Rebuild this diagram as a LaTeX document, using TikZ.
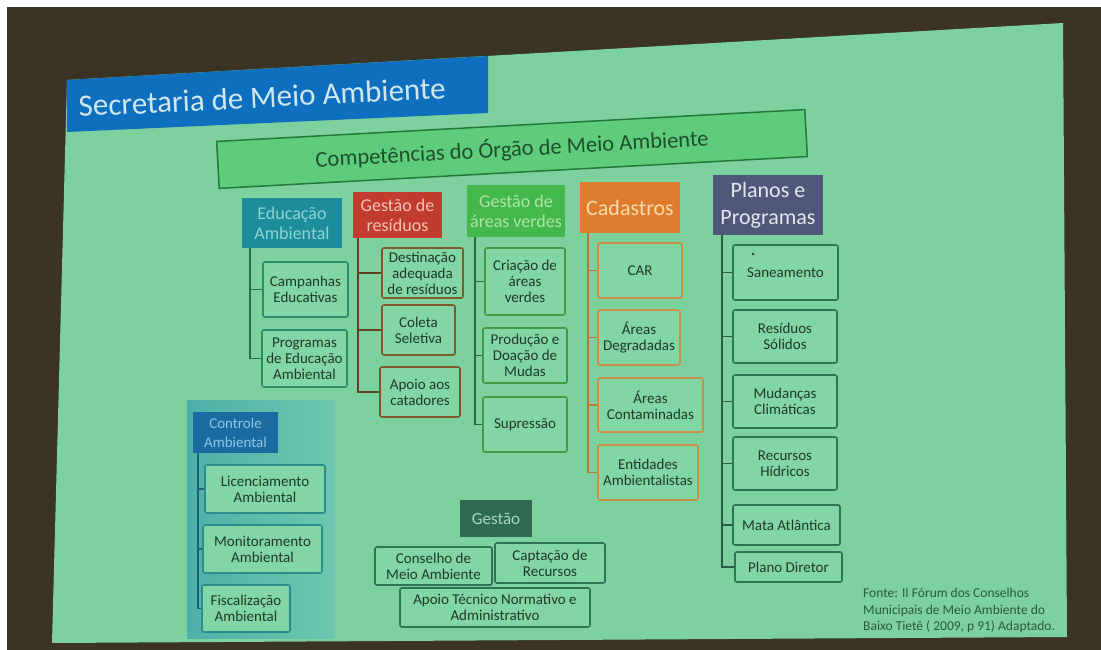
\documentclass[tikz,border=0pt]{standalone}
\usepackage{fontspec}
\setmainfont{Carlito}

\definecolor{frame}{HTML}{3B3324}
\definecolor{slide}{HTML}{7CD19E}
\definecolor{titleB}{HTML}{0E6FBE}
\definecolor{titleT}{HTML}{CFE7EE}
\definecolor{compF}{HTML}{5FCC7B}
\definecolor{compB}{HTML}{237A3A}
\definecolor{compT}{HTML}{1E4F2C}
\definecolor{eduF}{HTML}{1C8E9B}
\definecolor{eduT}{HTML}{8FD3D3}
\definecolor{resF}{HTML}{C23B2F}
\definecolor{resT}{HTML}{F2C4B4}
\definecolor{verF}{HTML}{45B84C}
\definecolor{verT}{HTML}{AEE6A6}
\definecolor{cadF}{HTML}{DE7B2C}
\definecolor{cadT}{HTML}{F7DDAE}
\definecolor{plaF}{HTML}{4F5879}
\definecolor{plaT}{HTML}{E4E7F0}
\definecolor{conF}{HTML}{1B6BA3}
\definecolor{conT}{HTML}{8CC6DF}
\definecolor{gesF}{HTML}{2E6B52}
\definecolor{gesT}{HTML}{A9D6C0}
\definecolor{itemF}{HTML}{82D5A4}
\definecolor{itemT}{HTML}{1F3A2A}
\definecolor{eduB}{HTML}{2D8C66}
\definecolor{resB}{HTML}{7B5A2E}
\definecolor{verB}{HTML}{3E9B47}
\definecolor{cadB}{HTML}{C88F47}
\definecolor{plaB}{HTML}{2F7352}
\definecolor{conB}{HTML}{2B8E8C}
\definecolor{gesB}{HTML}{2F7352}
\definecolor{eduL}{HTML}{2A6A55}
\definecolor{resL}{HTML}{5E4322}
\definecolor{verL}{HTML}{2B6B36}
\definecolor{cadL}{HTML}{B47B2C}
\definecolor{plaL}{HTML}{2A5C42}
\definecolor{conL}{HTML}{1F607C}
\definecolor{panelL}{HTML}{4DB0A8}
\definecolor{panelR}{HTML}{6CC8AE}
\definecolor{footT}{HTML}{2A5A3A}

\begin{document}
\begin{tikzpicture}[x=1pt,y=-1pt,
    head/.style={fill=#1, inner sep=1pt, align=center, font=\fontsize{18}{20}\selectfont},
    item/.style={draw=#1, fill=itemF, line width=1.6pt, rounded corners=2pt, inner sep=1pt,
      align=center, text=itemT, font=\fontsize{15}{16}\selectfont},
    trunk/.style={draw=#1, line width=1.8pt}]
  \useasboundingbox (0,0) rectangle (1101,650);
  % screen and slide
  \fill[frame] (0,0) rectangle (1101,650);
  \fill[white] (0,0) rectangle (1101,7);
  \fill[white] (0,0) rectangle (7,650);
  \fill[slide] (67,80) -- (1063,23) -- (1067,637) -- (52,643) -- cycle;
  % title bar
  \fill[titleB] (67,80) -- (488,56) -- (488,113) -- (67,132) -- cycle;
  \node[rotate=2.8, text=titleT, font=\fontsize{31}{36}\selectfont] (title) at (262,97) {Secretaria de Meio Ambiente};
  \node[draw=compB, fill=compF, line width=1.5pt, rotate=3.1, minimum width=589, minimum height=47,
    text=compT, font=\fontsize{22.5}{26}\selectfont] (comp) at (512,149) {Competências do Órgão de Meio Ambiente};
  % panel behind Controle Ambiental
  \shade[left color=panelL, right color=panelR] (187,400) rectangle (335,638);

  % column heads
  \node[head=eduF, text=eduT, minimum width=100, minimum height=50] (edu) at (292,223) {Educação\\Ambiental};
  \node[head=resF, text=resT, minimum width=89, minimum height=46] (res) at (397.5,215) {Gestão de\\resíduos};
  \node[head=verF, text=verT, minimum width=98, minimum height=52] (ver) at (516,211) {Gestão de\\áreas verdes};
  \node[head=cadF, text=cadT, minimum width=100, minimum height=51, font=\fontsize{22}{27}\selectfont] (cad) at (630,207.5) {Cadastros};
  \node[head=plaF, text=plaT, minimum width=110, minimum height=60, font=\fontsize{22}{27}\selectfont] (pla) at (768,205) {Planos e\\Programas};
  \node[head=conF, text=conT, minimum width=85, minimum height=41, font=\fontsize{15}{19}\selectfont] (con) at (235.5,432.5) {Controle\\Ambiental};
  \node[head=gesF, text=gesT, minimum width=72, minimum height=37, font=\fontsize{17}{20}\selectfont] (ges) at (496,518.5) {Gestão};

  % Educação Ambiental
  \node[item=eduB, minimum width=85, minimum height=55] (camp) at (305.5,289.5) {Campanhas\\Educativas};
  \node[item=eduB, minimum width=85, minimum height=57] (prog) at (304.5,358.5) {Programas\\de Educação\\Ambiental};
  % Gestão de resíduos
  \node[item=resB, minimum width=81, minimum height=50] (dest) at (422.5,273) {Destinação\\adequada\\de resíduos};
  \node[item=resB, minimum width=73, minimum height=50] (cole) at (418.5,330) {Coleta\\Seletiva};
  \node[item=resB, minimum width=80, minimum height=50] (apoi) at (420,392) {Apoio aos\\catadores};
  % Gestão de áreas verdes
  \node[item=verB, minimum width=80, minimum height=67] (cria) at (525,281.5) {Criação de\\áreas\\verdes};
  \node[item=verB, minimum width=84, minimum height=55] (prod) at (525,355.5) {Produção e\\Doação de\\Mudas};
  \node[item=verB, minimum width=84, minimum height=55] (supr) at (525,424.5) {Supressão};
  % Cadastros
  \node[item=cadB, minimum width=84, minimum height=55] (car) at (640,270.5) {CAR};
  \node[item=cadB, minimum width=82, minimum height=55] (deg) at (639,337.5) {Áreas\\Degradadas};
  \node[item=cadB, minimum width=105, minimum height=54] (cont) at (650.5,405) {Áreas\\Contaminadas};
  \node[item=cadB, minimum width=100, minimum height=55] (ent) at (648,472.5) {Entidades\\Ambientalistas};
  % Planos e Programas
  \node[item=plaB, minimum width=105, minimum height=55] (san) at (785.5,272.5) {Saneamento};
  \fill[itemT] (753,254) circle (1.3);
  \node[item=plaB, minimum width=104, minimum height=53] (sol) at (785,336.5) {Resíduos\\Sólidos};
  \node[item=plaB, minimum width=104, minimum height=53] (mud) at (785,401.5) {Mudanças\\Climáticas};
  \node[item=plaB, minimum width=104, minimum height=53] (hid) at (785,463.5) {Recursos\\Hídricos};
  \node[item=plaB, minimum width=107, minimum height=40] (mata) at (786.5,525) {Mata Atlântica};
  \node[item=plaB, minimum width=107, minimum height=30] (dir) at (788.5,567) {Plano Diretor};
  % Controle Ambiental
  \node[item=conB, minimum width=120, minimum height=48] (lic) at (265,489) {Licenciamento\\Ambiental};
  \node[item=conB, minimum width=119, minimum height=48] (mon) at (262.5,549) {Monitoramento\\Ambiental};
  \node[item=conB, minimum width=88, minimum height=47] (fis) at (246,608.5) {Fiscalização\\Ambiental};
  % Gestão
  \node[item=gesB, minimum width=117, minimum height=38] (cons) at (433.5,566) {Conselho de\\Meio Ambiente};
  \node[item=gesB, minimum width=110, minimum height=40] (capt) at (550,563) {Captação de\\Recursos};
  \node[item=gesB, minimum width=190, minimum height=39] (tec) at (495,607.5) {Apoio Técnico Normativo e\\Administrativo};

  % trunk lines
  \coordinate (eduX) at ([xshift=8]edu.south west);
  \draw[trunk=eduL] (eduX) |- (prog.west);
  \draw[trunk=eduL] (eduX |- camp.west) -- (camp.west);

  \coordinate (resX) at ([xshift=5]res.south west);
  \draw[trunk=resL] (resX) |- (apoi.west);
  \foreach \n in {dest,cole}
    \draw[trunk=resL] (resX |- \n.west) -- (\n.west);

  \coordinate (verX) at ([xshift=8]ver.south west);
  \draw[trunk=verL] (verX) |- (supr.west);
  \foreach \n in {cria,prod}
    \draw[trunk=verL] (verX |- \n.west) -- (\n.west);

  \coordinate (cadX) at ([xshift=8]cad.south west);
  \draw[trunk=cadL] (cadX) |- (ent.west);
  \foreach \n in {car,deg,cont}
    \draw[trunk=cadL] (cadX |- \n.west) -- (\n.west);

  \coordinate (plaX) at ([xshift=9]pla.south west);
  \draw[trunk=plaL] (plaX) |- (dir.west);
  \foreach \n in {san,sol,mud,hid,mata}
    \draw[trunk=plaL] (plaX |- \n.west) -- (\n.west);

  \coordinate (conX) at ([xshift=5]con.south west);
  \draw[trunk=conL] (conX) |- (fis.west);
  \foreach \n in {lic,mon}
    \draw[trunk=conL] (conX |- \n.west) -- (\n.west);

  % source
  \node[anchor=north west, align=left, inner sep=0pt, text=footT, font=\fontsize{13.5}{16.5}\selectfont] (fonte) at (863,588)
    {Fonte: II Fórum dos Conselhos\\Municipais de Meio Ambiente do\\Baixo Tietê ( 2009, p 91) Adaptado.};
\end{tikzpicture}
\end{document}
